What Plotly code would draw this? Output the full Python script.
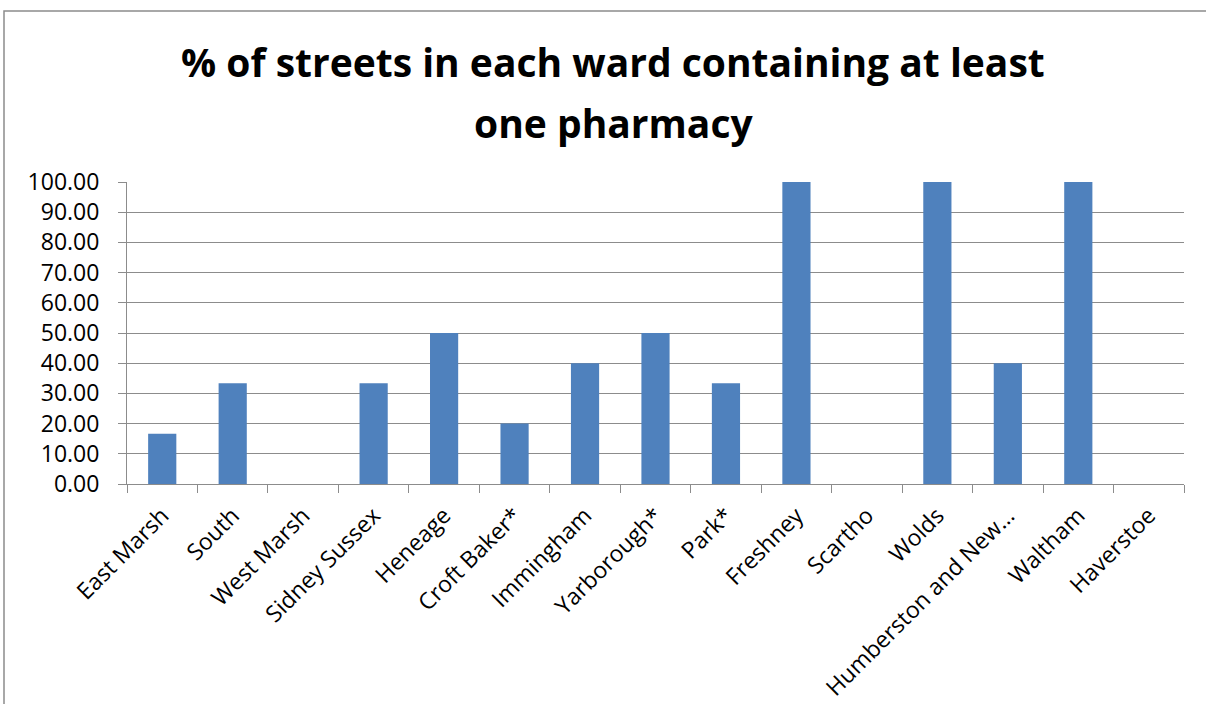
import plotly.graph_objects as go

wards = ["East Marsh", "South", "West Marsh", "Sidney Sussex", "Heneage", "Croft Baker*",
         "Immingham", "Yarborough*", "Park*", "Freshney", "Scartho", "Wolds",
         "Humberston and New…", "Waltham", "Haverstoe"]
pct = [16.67, 33.33, 0.0, 33.33, 50.0, 20.0, 40.0, 50.0, 33.33, 100.0, 0.0, 100.0, 40.0, 100.0, 0.0]
y_ticks = [0, 10, 20, 30, 40, 50, 60, 70, 80, 90, 100]
title_lines = ["% of streets in each ward containing at least", "one pharmacy"]

L, R, T, B = 127, 22, 182, 220
W, H = 1206, 704
pw, ph = W - L - R, H - T - B

fig = go.Figure(go.Bar(x=wards, y=pct, marker=dict(color="#4F81BD", line=dict(width=0))))

fig.update_layout(
    width=W, height=H,
    margin=dict(l=L, r=R, t=T, b=B),
    paper_bgcolor="white", plot_bgcolor="white",
    font=dict(family="Open Sans", color="black"),
    showlegend=False,
    bargap=0.6,
)
for i, (line, ypx) in enumerate(zip(title_lines, [62, 122])):
    fig.add_annotation(text="<b>" + line + "</b>", xref="paper", yref="paper",
                       x=(613 - L) / pw, y=(T + ph - ypx) / ph, xanchor="center", yanchor="middle",
                       showarrow=False, font=dict(family="Open Sans", size=39, color="black"))

fig.update_yaxes(range=[0, 100], tickvals=y_ticks, tickformat=".2f", automargin=False,
                 showgrid=True, gridcolor="#8c8c8c", gridwidth=1,
                 showline=True, linecolor="#8c8c8c", linewidth=1,
                 ticks="outside", ticklen=8, tickcolor="#8c8c8c", ticklabelstandoff=14,
                 tickfont=dict(size=23, family="Open Sans"), zeroline=False, fixedrange=True)
fig.update_xaxes(tickangle=-45, tickson="boundaries", ticks="outside", ticklen=8, tickcolor="#8c8c8c",
                 automargin=False,
                 showline=True, linecolor="#8c8c8c", linewidth=1, showgrid=False, ticklabelstandoff=8,
                 tickfont=dict(size=23, family="Open Sans"), fixedrange=True)

# outer chart border
fig.add_shape(type="rect", xref="paper", yref="paper",
              x0=(4 - L) / pw, x1=(W + 5 - L) / pw,
              y0=-(H + 5 - (T + ph)) / ph, y1=(T + ph - 11) / ph,
              line=dict(color="#8c8c8c", width=1.5), fillcolor="rgba(0,0,0,0)", layer="below")

fig.write_html("out.html", config={"displayModeBar": False},
               post_script="document.body.style.margin='0';")
